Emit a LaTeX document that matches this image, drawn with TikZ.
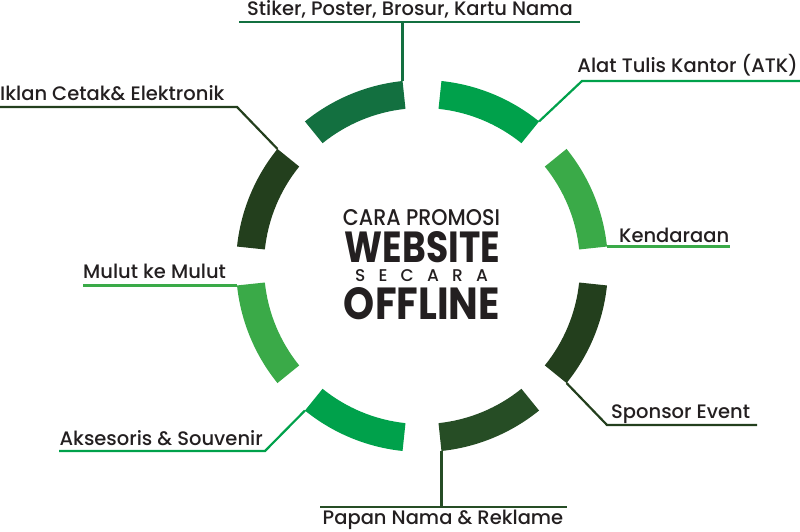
\documentclass[tikz,border=0pt]{standalone}
\usepackage{fontspec}
\setmainfont{Poppins Medium}[BoldFont=Poppins Bold]
\usepackage{graphicx}
\definecolor{gStk}{HTML}{137040}
\definecolor{gBright}{HTML}{00A14B}
\definecolor{gLight}{HTML}{3AAA48}
\definecolor{gDark}{HTML}{233F1D}
\definecolor{gPapan}{HTML}{264D25}
\definecolor{ink}{HTML}{231F20}

\begin{document}
\begin{tikzpicture}[x=1pt,y=1pt,font=\fontsize{19.5}{24}\selectfont,
    lbl/.style={inner sep=0pt,text=ink},
    lead/.style={line width=2.2pt}]
    \useasboundingbox (0,0) rectangle (800,532);
    \coordinate (C) at (422,266);

    % ring segments
    \foreach \s/\c/\n in {96/gStk/stk,51/gBright/atk,6/gLight/ken,-39/gDark/spo,
                          -84/gPapan/pap,-129/gBright/aks,186/gLight/mul,141/gDark/ikl}{
        \pgfmathsetmacro{\e}{\s+33}
        \coordinate (\n-a) at ([shift={(\s:186)}]C);
        \coordinate (\n-b) at ([shift={(\e:186)}]C);
        \fill[\c] (\n-a) arc[start angle=\s,end angle=\e,radius=186]
            -- ([shift={(\e:158)}]C) arc[start angle=\e,end angle=\s,radius=158] -- cycle;
    }

    % center title
    \node[lbl,anchor=south] (cara) at (421.5,306) {\resizebox{157pt}{16pt}{CARA PROMOSI}};
    \node[lbl,anchor=south] (web) at (422.5,269) {\resizebox{155pt}{31pt}{\bfseries WEBSITE}};
    \node[lbl,anchor=base,font=\fontsize{17}{20}\selectfont] (sec) at (421.5,250)
        {\makebox[133pt][s]{S\hfill E\hfill C\hfill A\hfill R\hfill A}};
    \node[lbl,anchor=south] (off) at (422,212) {\resizebox{156pt}{32pt}{\bfseries OFFLINE}};

    % labels
    \node[lbl,anchor=base] (stkT) at (410,516) {Stiker, Poster, Brosur, Kartu Nama};
    \node[lbl,anchor=base east] (atkT) at (798,459) {Alat Tulis Kantor (ATK)};
    \node[lbl,anchor=base west] (kenT) at (619,289) {Kendaraan};
    \node[lbl,anchor=base west] (spoT) at (611,113) {Sponsor Event};
    \node[lbl,anchor=base] (papT) at (443,7) {Papan Nama \& Reklame};
    \node[lbl,anchor=base east] (aksT) at (263,86) {Aksesoris \& Souvenir};
    \node[lbl,anchor=base west] (mulT) at (83,253) {Mulut ke Mulut};
    \node[lbl,anchor=base west] (iklT) at (0,431) {Iklan Cetak\& Elektronik};

    % leader lines
    \draw[lead,gStk] (stk-a) -- (stk-a |- 0,510);
    \draw[lead,gStk] (239,510) -- (580,510);
    \draw[lead,gBright] (atk-a) -- (582,451) -- (800,451);
    \draw[lead,gLight] (ken-a) -- (ken-a -| 730,0);
    \draw[lead,gDark] (spo-a) -- (607,107) -- (757,107);
    \draw[lead,gPapan] (pap-a) -- (pap-a |- 0,25);
    \draw[lead,gPapan] (320,25) -- (567,25);
    \draw[lead,gBright] (aks-a) -- (265,81) -- (59,81);
    \draw[lead,gLight] (mul-a) -- (mul-a -| 83,0);
    \draw[lead,gDark] (ikl-a) -- (237,425) -- (0,425);
\end{tikzpicture}
\end{document}
